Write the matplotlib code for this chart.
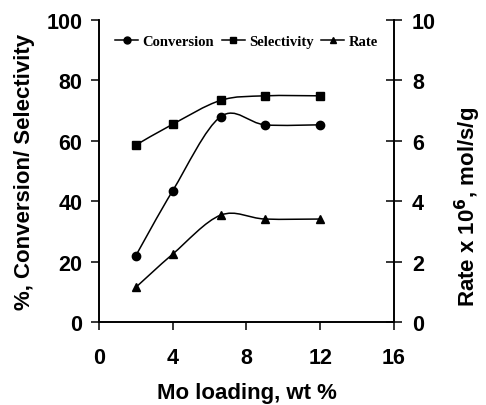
import numpy as np
import matplotlib
matplotlib.use("Agg")
import matplotlib.pyplot as plt
from matplotlib.path import Path
from matplotlib.patches import PathPatch
from matplotlib.lines import Line2D

loading = [2, 4, 6.6, 9, 12]
conversion = [22, 43.5, 68, 65.3, 65.3]
selectivity = [58.6, 65.5, 73.4, 74.9, 74.9]
rate = [1.15, 2.25, 3.54, 3.41, 3.41]

plt.rcParams["font.family"] = "Liberation Sans"
plt.rcParams["font.weight"] = "bold"


def smooth_path(x, y):
    # excel-like smoothed line: cubic bezier segments through the points
    p = np.column_stack([x, y]).astype(float)
    n = len(p)
    verts = [p[0]]
    codes = [Path.MOVETO]
    for i in range(n - 1):
        prev = p[i - 1] if i > 0 else p[i]
        nxt = p[i + 2] if i + 2 < n else p[i + 1]
        c1 = p[i] + (p[i + 1] - prev) / 6
        c2 = p[i + 1] - (nxt - p[i]) / 6
        verts += [c1, c2, p[i + 1]]
        codes += [Path.CURVE4] * 3
    return Path(verts, codes)


fig = plt.figure(figsize=(4.86, 4.06), dpi=100)
ax = fig.add_axes([0.2037, 0.2044, 0.607, 0.7438])
ax2 = ax.twinx()

for a in (ax, ax2):
    a.spines["top"].set_visible(False)
    for s in a.spines.values():
        s.set_linewidth(1.2)

ax.add_patch(PathPatch(smooth_path(loading, conversion), fill=False, lw=1.1, color="black"))
ax.add_patch(PathPatch(smooth_path(loading, selectivity), fill=False, lw=1.1, color="black"))
ax2.add_patch(PathPatch(smooth_path(loading, rate), fill=False, lw=1.1, color="black"))
ax.plot(loading, conversion, "o", color="black", ms=6)
ax.plot(loading, selectivity, "s", color="black", ms=6)
ax2.plot(loading, rate, "^", color="black", ms=6)

ax.set_xlim(0, 16)
ax.set_ylim(0, 100)
ax2.set_ylim(0, 10)
ax.set_xticks([0, 4, 8, 12, 16])
ax.set_yticks([0, 20, 40, 60, 80, 100])
ax2.set_yticks([0, 2, 4, 6, 8, 10])

ax.tick_params(axis="both", direction="out", length=6, width=1.1, labelsize=15.5, pad=6)
ax.tick_params(axis="x", pad=12)
ax2.tick_params(axis="y", direction="inout", length=12, width=1.1, labelsize=15.5, pad=7)

ax.set_xlabel("Mo loading, wt %", fontsize=16, fontweight="bold", labelpad=10)
ax.set_ylabel("%, Conversion/ Selectivity", fontsize=16, fontweight="bold", labelpad=8)
ax2.set_ylabel("Rate x 10$^{\\mathbf{6}}$, mol/s/g", fontsize=16, fontweight="bold")
ax2.yaxis.set_label_coords(1.2, 0.385)

handles = [
    Line2D([], [], color="black", lw=1.1, marker="o", ms=5),
    Line2D([], [], color="black", lw=1.1, marker="s", ms=5),
    Line2D([], [], color="black", lw=1.1, marker="^", ms=5),
]
ax.legend(handles, ["Conversion", "Selectivity", "Rate"], loc="upper center",
          bbox_to_anchor=(0.5, 0.995), ncol=3, frameon=False, handlelength=1.6,
          handletextpad=0.3, columnspacing=0.5,
          prop={"family": "Liberation Serif", "weight": "bold", "size": 10.5})

fig.savefig("out.png", dpi=100)
